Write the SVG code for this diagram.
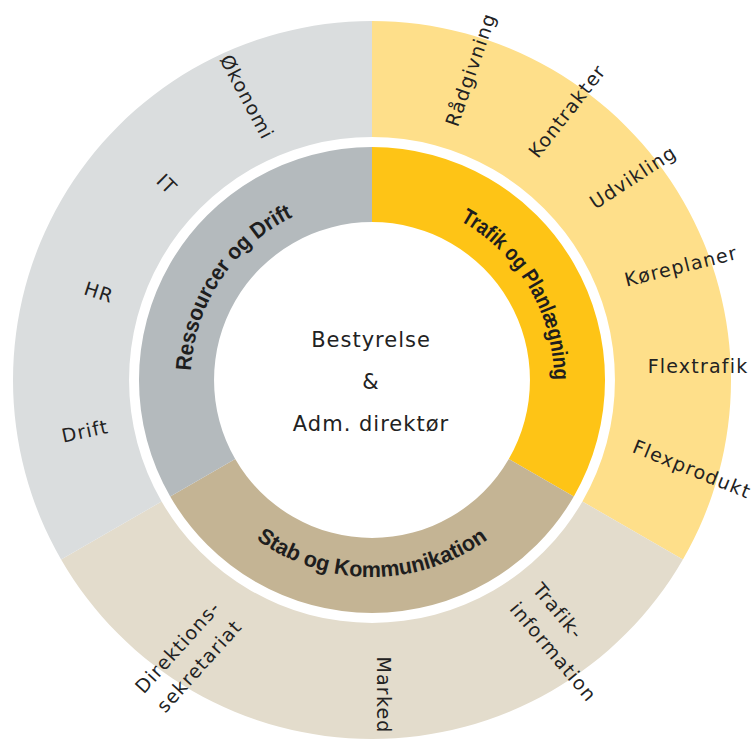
<svg xmlns="http://www.w3.org/2000/svg" width="756" height="740" viewBox="0 0 756 740">
<style>
.lbl{font-family:"DejaVu Sans","Liberation Sans",sans-serif;font-size:19px;letter-spacing:1.2px;fill:#222;text-anchor:middle}
.lbs{font-family:"DejaVu Sans","Liberation Sans",sans-serif;font-size:19px;letter-spacing:1.2px;fill:#222;text-anchor:start}
.ctr{font-family:"DejaVu Sans","Liberation Sans",sans-serif;font-size:21px;letter-spacing:1px;fill:#222;text-anchor:middle}
.bold{font-family:"Liberation Sans",Arial,sans-serif;font-size:22px;font-weight:bold;fill:#1e1e1e;text-anchor:middle}
.o-y{fill:#FEDF8A}.o-b{fill:#E3DCCC}.o-g{fill:#DADDDE}
.i-y{fill:#FEC416}.i-b{fill:#C4B494}.i-g{fill:#B4BABD}
</style>
<defs>
<path id="arcRes" d="M 271.6 531.8 A 182 182 0 0 1 472.4 228.2"/>
<path id="arcTraf" d="M 279.6 223.2 A 182 182 0 0 1 464.4 536.8"/>
<path id="arcStab" d="M 175 380 A 197 197 0 0 0 569 380"/>
</defs>
<rect width="756" height="740" fill="#ffffff"/>
<g id="connectors"/>

<g id="outer-trafik">
<path class="o-y" d="M 372 21 A 359 359 0 0 1 682.9 559.5 L 582.4 501.5 A 243 243 0 0 0 372 137 Z"/>
</g>
<g id="outer-stab">
<path class="o-b" d="M 682.9 559.5 A 359 359 0 0 1 61.1 559.5 L 161.6 501.5 A 243 243 0 0 0 582.4 501.5 Z"/>
</g>
<g id="outer-ressourcer">
<path class="o-g" d="M 61.1 559.5 A 359 359 0 0 1 372 21 L 372 137 A 243 243 0 0 0 161.6 501.5 Z"/>
</g>

<g id="trafik-og-planlaegning">
<path class="i-y" d="M 372 147 A 233 233 0 0 1 573.8 496.5 L 508.8 459 A 158 158 0 0 0 372 222 Z"/>
<text class="bold"><textPath href="#arcTraf" startOffset="50%" textLength="194" lengthAdjust="spacingAndGlyphs">Trafik og Planlægning</textPath></text>
</g>
<g id="stab-og-kommunikation">
<path class="i-b" d="M 573.8 496.5 A 233 233 0 0 1 170.2 496.5 L 235.2 459 A 158 158 0 0 0 508.8 459 Z"/>
<text class="bold"><textPath href="#arcStab" startOffset="50%" textLength="248" lengthAdjust="spacingAndGlyphs">Stab og Kommunikation</textPath></text>
</g>
<g id="ressourcer-og-drift">
<path class="i-g" d="M 170.2 496.5 A 233 233 0 0 1 372 147 L 372 222 A 158 158 0 0 0 235.2 459 Z"/>
<text class="bold"><textPath href="#arcRes" startOffset="50%" textLength="194" lengthAdjust="spacingAndGlyphs">Ressourcer og Drift</textPath></text>
</g>

<g id="center">
<text class="ctr" x="371" y="347">Bestyrelse</text>
<text class="ctr" x="371" y="389">&amp;</text>
<text class="ctr" x="371" y="431">Adm. direktør</text>
</g>

<g id="raadgivning"><text class="lbl" transform="translate(470.5 69.5) rotate(-71)" dy="0.36em">Rådgivning</text></g>
<g id="kontrakter"><text class="lbl" transform="translate(567 111) rotate(-52)" dy="0.36em">Kontrakter</text></g>
<g id="udvikling"><text class="lbl" transform="translate(633 177) rotate(-33)" dy="0.36em">Udvikling</text></g>
<g id="koereplaner"><text class="lbl" transform="translate(681 266) rotate(-14)" dy="0.36em">Køreplaner</text></g>
<g id="flextrafik"><text class="lbl" transform="translate(698 366)" dy="0.36em">Flextrafik</text></g>
<g id="flexprodukt"><text class="lbl" transform="translate(692 469) rotate(22)" dy="0.36em">Flexprodukt</text></g>

<g id="oekonomi"><text class="lbl" transform="translate(247 97) rotate(62)" dy="0.36em">Økonomi</text></g>
<g id="it"><text class="lbl" transform="translate(167 184) rotate(45)" dy="0.36em">IT</text></g>
<g id="hr"><text class="lbl" transform="translate(99 292) rotate(18)" dy="0.36em">HR</text></g>
<g id="drift"><text class="lbl" transform="translate(85 431) rotate(-12)" dy="0.36em">Drift</text></g>

<g id="direktionssekretariat">
<text class="lbl" transform="translate(177.5 647) rotate(-48)" dy="0.36em">Direktions-</text>
<text class="lbl" transform="translate(199 666) rotate(-48)" dy="0.36em">sekretariat</text>
</g>
<g id="marked"><text class="lbl" transform="translate(383.5 695) rotate(90)" dy="0.36em">Marked</text></g>
<g id="trafikinformation" transform="translate(537 585.5) rotate(50)">
<text class="lbs" x="0" y="0" dy="0.36em">Trafik-</text>
<text class="lbs" x="0" y="30" dy="0.36em">information</text>
</g>
</svg>
